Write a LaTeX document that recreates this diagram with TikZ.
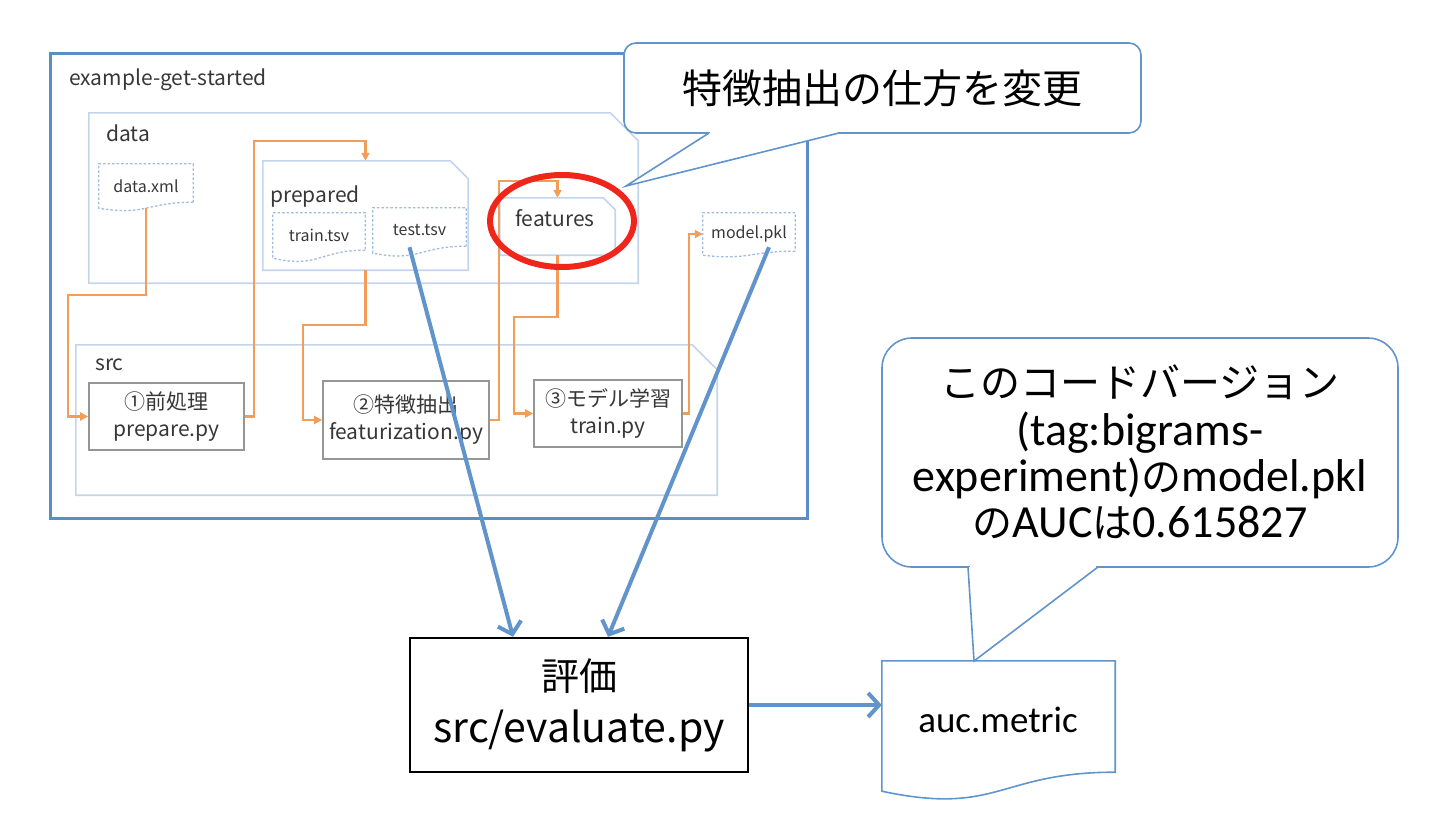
\documentclass[tikz,border=0pt]{standalone}
\usepackage{fontspec}
\setmainfont{Noto Sans CJK JP}
\newfontfamily\jp{Noto Sans CJK JP}
\newfontfamily\calib{Carlito}
\usetikzlibrary{calc,arrows.meta}

\definecolor{frameblue}{RGB}{91,141,200}
\definecolor{dirblue}{RGB}{195,213,236}
\definecolor{fileblue}{RGB}{160,188,224}
\definecolor{flowor}{RGB}{242,158,88}
\definecolor{stepgray}{RGB}{150,150,150}
\definecolor{inkgray}{RGB}{55,55,55}
\definecolor{ringred}{RGB}{240,38,28}
\definecolor{noteblue}{RGB}{98,148,204}

\tikzset{
	dirbox/.style={draw=none, inner sep=0pt},
	dirline/.style={draw=dirblue, line width=1.6pt},
	dirtag/.style={anchor=west, inner sep=0pt, text=inkgray, font=\fontsize{21}{24}\selectfont},
	fileline/.style={draw=fileblue, line width=1.3pt, dash pattern=on 2.5pt off 2pt},
	filetag/.style={inner sep=0pt, text=inkgray, font=\fontsize{16}{18}\selectfont},
	stepbox/.style={draw=stepgray, line width=1.6pt, fill=white, align=center, inner sep=0pt, text=inkgray, font=\fontsize{21}{27}\selectfont},
	flow/.style={draw=flowor, line width=2.2pt, -{Triangle[length=8pt,width=8pt]}},
	bigflow/.style={draw=noteblue, line width=4pt, -{Straight Barb[length=11pt,width=24pt]}},
	note/.style={draw=noteblue, line width=1.6pt, fill=white},
	ring/.style={draw=ringred, line width=6pt},
}

\def\dirline(#1:#2){\draw[dirline] (#1.south west) -- (#1.north west) -- ($(#1.north east)+(-#2,0)$) -- ($(#1.north east)+(0,#2)$) -- (#1.south east) -- cycle;}
\def\docline[#1](#2:#3){\draw[#1] ($(#2.south east)+(0,-#3)$) .. controls ($(#2.south)+(0,-#3)$) and ($(#2.south)+(0,1.31*#3)$) .. (#2.south west) -- (#2.north west) -- (#2.north east) -- cycle;}
\newcommand\jatext[1]{{\jp\fontsize{40}{47}\selectfont #1}}

\begin{document}
\begin{tikzpicture}[x=1pt, y=-1pt]
		%%%%% START %%%%%
		\useasboundingbox (0,0) rectangle (1432,830);
		
		\draw[line width=3pt, color=frameblue] (50,53) rectangle (807,518);
		\node[dirtag] (rootname) at (69,80) {example-get-started};
		
		\node[dirbox, minimum width=549pt, minimum height=170pt] (datadir) at (363.5,198) {};
		\dirline(datadir:28)
		\node[dirtag] (datatag) at (106,133) {data};
		
		\node[dirbox, minimum width=205pt, minimum height=109pt] (prepdir) at (365.5,215.5) {};
		\dirline(prepdir:18)
		\node[dirtag] (preptag) at (270,197) {prepared};
		
		\node[dirbox, minimum width=115pt, minimum height=57pt] (featdir) at (557.5,226.5) {};
		\dirline(featdir:12)
		\node[dirtag] (feattag) at (515,218) {features};
		
		\node[dirbox, minimum width=641pt, minimum height=150pt] (srcdir) at (396.5,420) {};
		\dirline(srcdir:25)
		\node[dirtag] (srctag) at (95,365) {src};
		
		\node[filetag, minimum width=94pt, minimum height=44pt] (dataxml) at (146,186) {data.xml};
		\docline[fileline](dataxml:6)
		\node[filetag, minimum width=92pt, minimum height=45pt] (traintsv) at (319,235.5) {train.tsv};
		\docline[fileline](traintsv:8)
		\node[filetag, minimum width=93pt, minimum height=45pt] (testtsv) at (419.5,230.5) {test.tsv};
		\docline[fileline](testtsv:7)
		\node[filetag, minimum width=92pt, minimum height=42pt] (modelpkl) at (749,234) {model.pkl};
		\docline[fileline](modelpkl:4)
		
		\node[stepbox, minimum width=155pt, minimum height=67pt] (prep) at (166.5,416.5) {①前処理\\prepare.py};
		\node[stepbox, minimum width=166pt, minimum height=78pt] (feat) at (406,420) {②特徴抽出\\featurization.py};
		\node[stepbox, minimum width=148pt, minimum height=67pt] (train) at (608,413.5) {③モデル学習\\train.py};
		
		\draw[flow] (dataxml.south) -- ++(0,87) -| ($(prep.west)+(-20,0)$) -- (prep.west);
		\draw[flow] (prep.east) -- ++(9,0) |- ($(prepdir.north)+(0,-20)$) -- (prepdir.north);
		\draw[flow] (prepdir.south) -- ++(0,55) -| ($(feat.west)+(-19,0)$) -- (feat.west);
		\draw[flow] (feat.east) -- ++(9,0) |- ($(featdir.north)+(0,-17)$) -- (featdir.north);
		\draw[flow] (featdir.south) -- ++(0,62) -| ($(train.west)+(-19,0)$) -- (train.west);
		\draw[flow] (train.east) -- ++(6,0) |- (modelpkl.west);
		
		\draw[ring] (562,221) ellipse (72 and 46);
		
		\node[draw=black, line width=2.4pt, minimum width=338pt, minimum height=134pt, align=center, inner sep=0pt, font=\fontsize{41}{50}\selectfont] (evalbox) at (579,705) {{\fontsize{38}{50}\selectfont 評価}\\[2pt]src/evaluate.py};
		\node[dirbox, minimum width=233pt, minimum height=130pt] (aucfile) at (998.5,726) {};
		\docline[note](aucfile:19)
		\node[inner sep=0pt, font=\calib\fontsize{37}{40}\selectfont] (auctag) at (998,720) {auc.metric};
		
		\draw[bigflow] ($(testtsv.south)+(-10,-6)$) -- ($(evalbox.north)+(-66,0)$);
		\draw[bigflow] ($(modelpkl.south)+(20,-8)$) -- ($(evalbox.north)+(29,0)$);
		\draw[bigflow] (evalbox.east) -- (evalbox.east -| aucfile.west);
		
		\draw[note, rounded corners=12pt] (624,43) rectangle (1141,133);
		\fill[white] (710,131) rectangle (838,135.5);
		\draw[note] (709,133) -- (626,186) -- (839,133);
		\node[inner sep=0pt, font=\jp\fontsize{40}{47}\selectfont] (changenote) at (882,88) {特徴抽出の仕方を変更};
		
		\draw[note, rounded corners=30pt] (882,338) rectangle (1398,567);
		\fill[white] (970,565) rectangle (1096,569.5);
		\draw[note] (968,567) -- (974,661) -- (1098,567);
		\node[inner sep=0pt, align=center, font=\calib\fontsize{46}{46}\selectfont] (aucnote) at (1140,452) {\jatext{このコードバージョン}\\[2pt](tag:bigrams-\\experiment)\jatext{の}model.pkl\\\jatext{の}AUC\jatext{は}0.615827};
		
		%%%%% END %%%%%
	\end{tikzpicture}
\end{document}
